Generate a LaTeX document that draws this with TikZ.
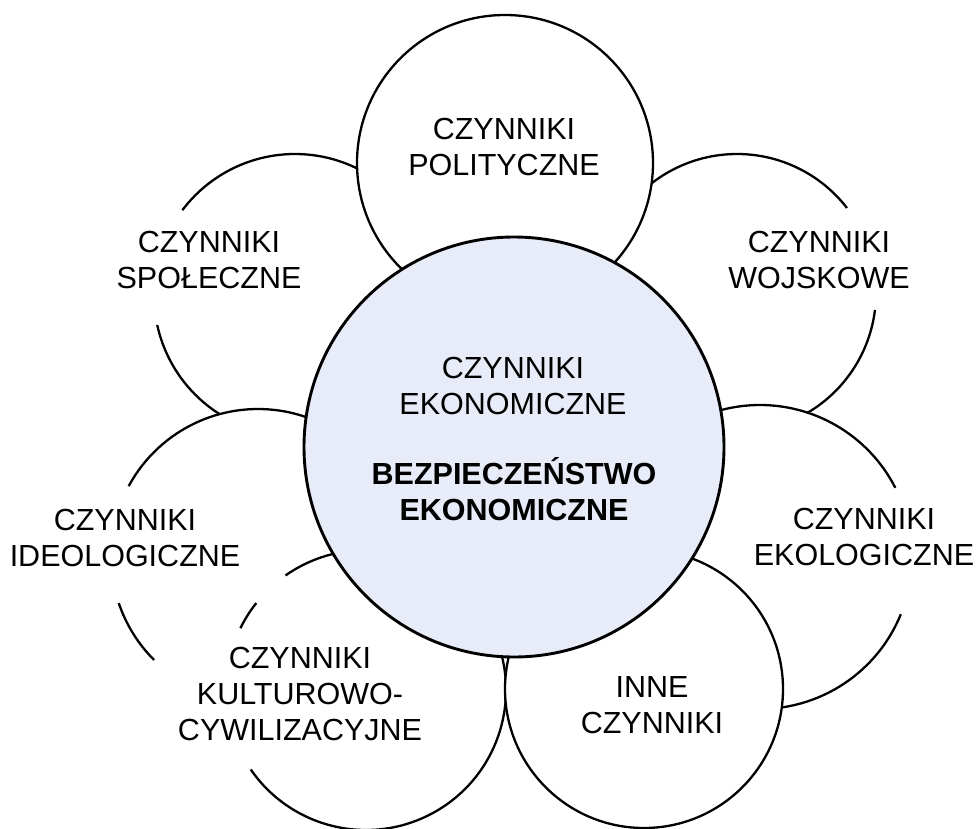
\documentclass[tikz,border=0pt]{standalone}
\usepackage{fontspec}
\setmainfont{Liberation Sans}
\definecolor{cfill}{RGB}{232,236,248}
\newcommand\ringarc[4]{\draw[ring] (#1) ++(#2:#4) arc[start angle=#2, end angle=#3, radius=#4];}
\begin{document}
\begin{tikzpicture}[x=1pt, y=1pt, yscale=-1]
\tikzset{
  ring/.style={line width=2.3pt, black},
  core/.style={line width=2.9pt, black, fill=cfill},
  lbl/.style={font=\fontsize{30.5}{36}\selectfont, align=center, inner sep=0pt},
}
\useasboundingbox[fill=white] (0,0) rectangle (980,829);
% centres
\coordinate (cS) at (295,295);
\coordinate (cW) at (737,293);
\coordinate (cP) at (505,163);
\coordinate (cD) at (258,556);
\coordinate (cE) at (760,557);
\coordinate (cK) at (366,690);
\coordinate (cI) at (644,689);
\coordinate (cC) at (514,447);
% spoleczne
\fill[white] (cS) circle[radius=141];
\ringarc{cS}{110}{167.7}{141}
\ringarc{cS}{217}{310}{141}
% wojskowe
\fill[white] (cW) circle[radius=139];
\ringarc{cW}{220}{322.3}{139}
\ringarc{cW}{7}{70}{139}
% polityczne
\draw[ring, fill=white] (cP) circle[radius=148];
% ideologiczne
\fill[white] (cD) circle[radius=147];
\ringarc{cD}{208.4}{300}{147}
\ringarc{cD}{135}{161.3}{147}
% ekologiczne
\fill[white] (cE) circle[radius=152];
\ringarc{cE}{240}{332.9}{152}
\ringarc{cE}{22.1}{95}{152}
% kulturowo
\fill[white] (cK) circle[radius=140];
\ringarc{cK}{206.2}{218.4}{140}
\ringarc{cK}{234.9}{265}{140}
\ringarc{cK}{-30}{145.4}{140}
% inne
\draw[ring, fill=white] (cI) circle[radius=139];
% centre
\draw[core] (cC) circle[radius=210];
% labels
\node[lbl] (tP) at (504,147) {CZYNNIKI\\POLITYCZNE};
\node[lbl] (tS) at (209,260) {CZYNNIKI\\SPOŁECZNE};
\node[lbl] (tW) at (819,260) {CZYNNIKI\\WOJSKOWE};
\node[lbl] (tD) at (125,538) {CZYNNIKI\\IDEOLOGICZNE};
\node[lbl] (tE) at (864,537) {CZYNNIKI\\EKOLOGICZNE};
\node[lbl] (tK) at (300,694) {CZYNNIKI\\KULTUROWO-\\CYWILIZACYJNE};
\node[lbl] (tI) at (652,705) {INNE\\CZYNNIKI};
\node[lbl] (tC1) at (513,386) {CZYNNIKI\\EKONOMICZNE};
\node[lbl, font=\fontsize{30.5}{36}\selectfont\bfseries] (tC2) at (514,489) {BEZPIECZEŃSTWO\\EKONOMICZNE};
\end{tikzpicture}
\end{document}
